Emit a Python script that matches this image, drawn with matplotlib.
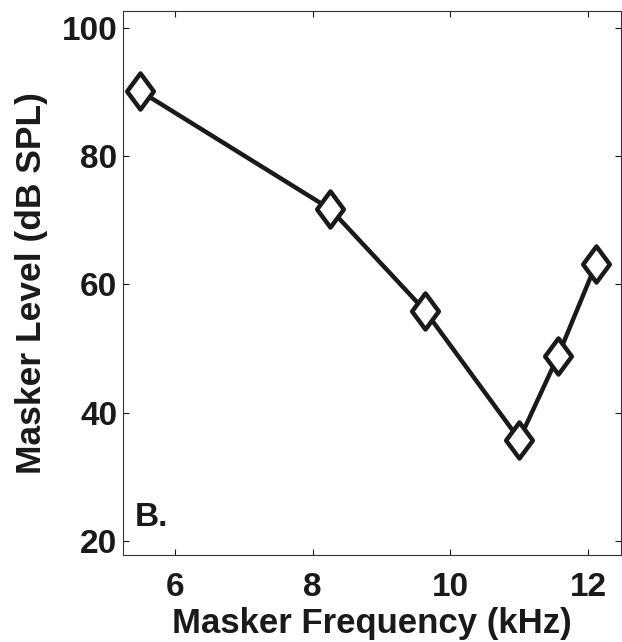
import matplotlib
matplotlib.use('Agg')
import matplotlib.pyplot as plt
from matplotlib.path import Path

# masker frequency (kHz) and masker level (dB SPL)
freq_khz = [5.5, 8.26, 9.63, 11.0, 11.56, 12.11]
level_db = [90.1, 71.7, 55.9, 35.8, 48.8, 63.1]

x_ticks = [6, 8, 10, 12]
y_ticks = [20, 40, 60, 80, 100]

plt.rcParams['font.family'] = ['Liberation Sans', 'DejaVu Sans']
plt.rcParams['font.weight'] = 'bold'

# matlab style diamond, a bit taller than wide
diamond = Path([(0, 1), (0.74, 0), (0, -1), (-0.74, 0), (0, 1)],
               [Path.MOVETO, Path.LINETO, Path.LINETO, Path.LINETO, Path.CLOSEPOLY])

fig = plt.figure(figsize=(6.22, 6.42), dpi=100)
ax = fig.add_axes([0.1977, 0.1355, 0.8013, 0.8474])

ax.plot(freq_khz, level_db, color='#1a1a1a', linewidth=3.2,
        marker=diamond, markersize=26, markerfacecolor='white',
        markeredgecolor='#1a1a1a', markeredgewidth=3.2, clip_on=False)

ax.set_xlim(5.25, 12.48)
ax.set_ylim(17.8, 102.6)
ax.set_xticks(x_ticks)
ax.set_yticks(y_ticks)

ax.tick_params(direction='in', length=4, width=0.8, top=True, right=True,
               labelsize=24, colors='#1a1a1a')
ax.tick_params(axis='x', pad=12)
ax.tick_params(axis='y', pad=4)
for label in ax.get_xticklabels() + ax.get_yticklabels():
    label.set_fontweight('bold')

for spine in ax.spines.values():
    spine.set_linewidth(0.8)
    spine.set_color('#333333')

ax.set_xlabel('Masker Frequency (kHz)', fontsize=25, fontweight='bold',
              labelpad=3, color='#1a1a1a')
ax.set_ylabel('Masker Level (dB SPL)', fontsize=25.5, fontweight='bold',
              labelpad=10, color='#1a1a1a')

ax.text(0.024, 0.053, 'B.', transform=ax.transAxes, fontsize=24,
        fontweight='bold', color='#1a1a1a')

fig.savefig('out.png', dpi=100)
